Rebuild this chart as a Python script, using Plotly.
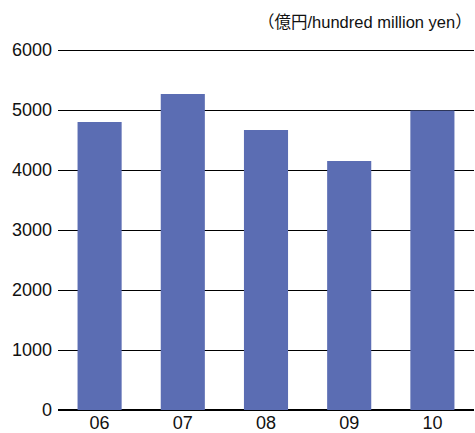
import plotly.graph_objects as go

years = ["06", "07", "08", "09", "10"]
values = [4800, 5267, 4667, 4150, 4990]
y_ticks = [0, 1000, 2000, 3000, 4000, 5000, 6000]
unit_label = "（億円/hundred million yen）"

font_family = "Liberation Sans, Arial, Noto Sans CJK JP, sans-serif"

fig = go.Figure(
    go.Bar(x=years, y=values, marker=dict(color="#5B6DB3", line=dict(width=0)),
           width=0.53)
)
fig.update_layout(
    width=475, height=433,
    margin=dict(l=58, r=1, t=49, b=23, autoexpand=False),
    plot_bgcolor="white", paper_bgcolor="white",
    font=dict(family=font_family, size=18, color="#111111"),
    showlegend=False,
    bargap=0.47,
)
fig.update_yaxes(
    range=[0, 6017], tickvals=y_ticks, showgrid=True, gridcolor="#000000",
    gridwidth=1, zeroline=True, zerolinecolor="#000000", zerolinewidth=1.5,
    ticks="", ticklabelstandoff=5, showline=False, automargin=False,
)
fig.update_xaxes(
    showgrid=False, ticks="", showline=False, ticklabelstandoff=0,
    automargin=False,
)
fig.add_annotation(
    text=unit_label, xref="paper", yref="paper", x=1.0, y=1.0,
    xanchor="right", yanchor="bottom", yshift=16, showarrow=False,
    font=dict(size=16.5, family=font_family, color="#111111"),
)
fig.write_html("out.html", config={"displayModeBar": False},
               post_script="document.body.style.margin='0';")
